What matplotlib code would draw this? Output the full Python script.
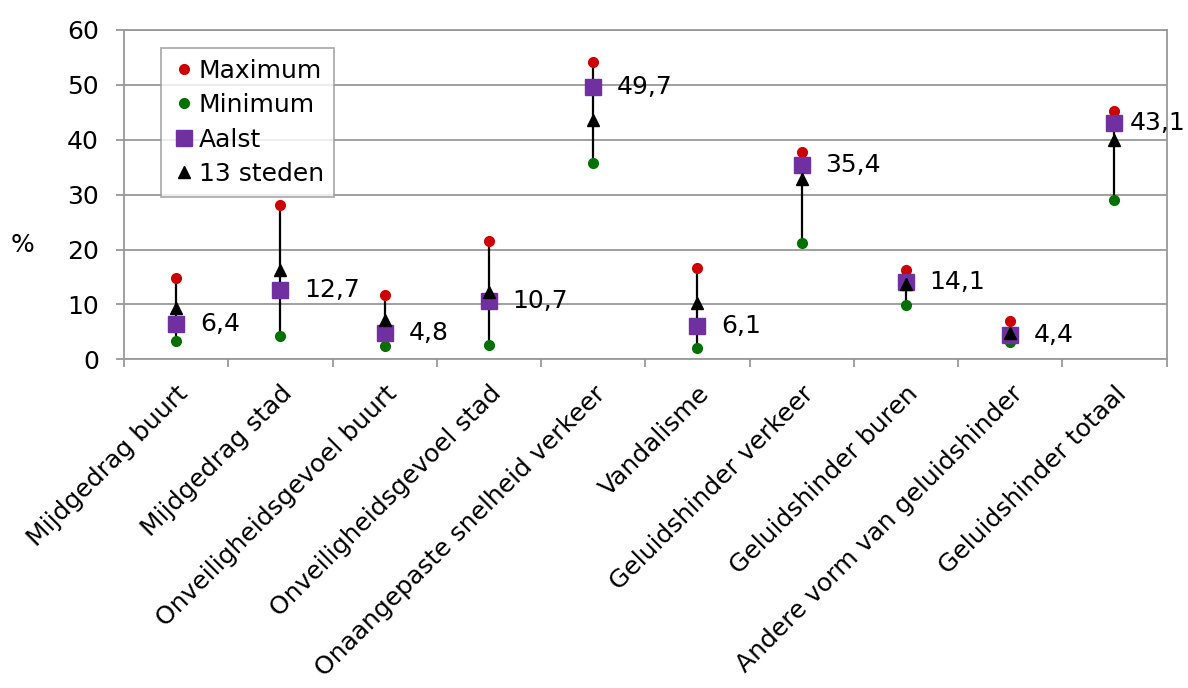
import matplotlib
matplotlib.use("Agg")
import matplotlib.pyplot as plt
import numpy as np

categories = [
    "Mijdgedrag buurt", "Mijdgedrag stad", "Onveiligheidsgevoel buurt",
    "Onveiligheidsgevoel stad", "Onaangepaste snelheid verkeer", "Vandalisme",
    "Geluidshinder verkeer", "Geluidshinder buren",
    "Andere vorm van geluidshinder", "Geluidshinder totaal",
]
maximum = [14.9, 28.1, 11.7, 21.5, 54.2, 16.6, 37.8, 16.3, 6.9, 45.3]
minimum = [3.4, 4.2, 2.5, 2.6, 35.8, 2.1, 21.2, 9.8, 3.1, 29.0]
aalst = [6.4, 12.7, 4.8, 10.7, 49.7, 6.1, 35.4, 14.1, 4.4, 43.1]
steden = [9.3, 16.3, 7.2, 12.3, 43.6, 10.2, 32.8, 13.8, 4.7, 39.9]

plt.rcParams["font.family"] = ["DejaVu Sans"]

fig = plt.figure(figsize=(11.88, 6.88), dpi=100)
ax = fig.add_axes([0.1044, 0.4778, 0.8776, 0.4786])

x = np.arange(len(categories))

# high-low lines
ax.vlines(x, minimum, maximum, color="black", lw=1.6, zorder=2)

ax.plot(x, maximum, "o", color="#CC0000", ms=7, ls="none", label="Maximum", zorder=3)
ax.plot(x, minimum, "o", color="#007000", ms=7, ls="none", label="Minimum", zorder=3)
ax.plot(x, aalst, "s", color="#7030A0", ms=11.5, ls="none", label="Aalst", zorder=4)
ax.plot(x, steden, "^", color="black", ms=9, ls="none", label="13 steden", zorder=5)

# data labels for Aalst (last one squeezed against the right edge)
for i, (xi, v) in enumerate(zip(x, aalst)):
    dx = 17 if i < len(aalst) - 1 else 11
    ax.annotate(f"{v:.1f}".replace(".", ","), (xi, v), xytext=(dx, 0),
                textcoords="offset points", va="center", ha="left", fontsize=18,
                annotation_clip=False)

ax.set_xlim(-0.5, len(categories) - 0.5)
ax.set_ylim(0, 60)
ax.set_yticks(np.arange(0, 61, 10))
ax.yaxis.grid(True, color="#999999", lw=1.3)
ax.set_axisbelow(True)
for sp in ax.spines.values():
    sp.set_color("#999999")
    sp.set_linewidth(1.3)

ax.set_xticks(x)
ax.set_xticklabels(categories, rotation=45, ha="right", rotation_mode="anchor",
                   fontsize=18)
ax.tick_params(axis="x", length=0, pad=16)
ax.set_xticks(np.arange(-0.5, len(categories), 1), minor=True)
ax.tick_params(axis="x", which="minor", length=6, color="#999999", width=1.3)
ax.tick_params(axis="y", labelsize=18, length=6, color="#999999", width=1.3, pad=12)

fig.text(22 / 1188, 1 - 245 / 688, "%", fontsize=18, ha="center", va="center")

leg = ax.legend(loc="upper left", bbox_to_anchor=(0.035, 0.945), fontsize=18,
                frameon=True, fancybox=False, handletextpad=0.1,
                handlelength=1.0, borderpad=0.42, labelspacing=0.42,
                borderaxespad=0)
leg.get_frame().set_edgecolor("#999999")
leg.get_frame().set_linewidth(1.3)

fig.savefig("out.png", dpi=100)
